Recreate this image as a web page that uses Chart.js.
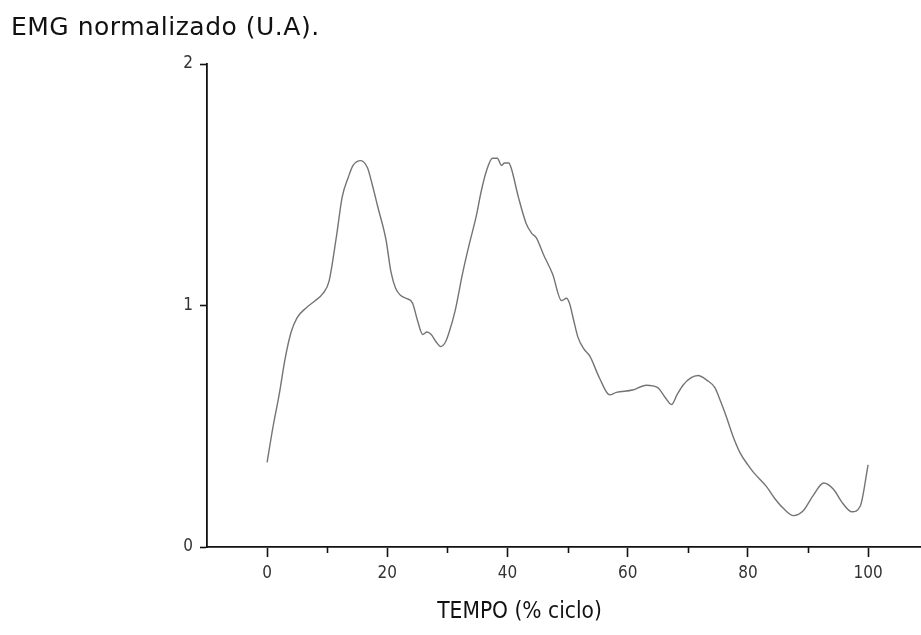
<!DOCTYPE html>
<html>
<head>
<meta charset="utf-8">
<script src="https://cdn.jsdelivr.net/npm/chart.js@4/dist/chart.umd.min.js"></script>
<style>
  html, body { margin: 0; padding: 0; background: #ffffff; }
  #wrap { width: 921px; height: 635px; position: relative; }
</style>
</head>
<body>
<div id="wrap"><canvas id="c" width="921" height="635"></canvas></div>
<script>
// ---- data ----
const tempoPct = [0, 1, 2, 3, 4, 5, 6.5, 8, 9.3, 10.3, 11.5, 12.5, 13.5, 14.3, 15.6, 16.7, 17.5, 18.4, 19.8, 20.6,
  21.4, 22.3, 23.1, 24.2, 25.0, 25.9, 26.6, 27.3, 28.1, 28.9, 29.7, 30.3, 31.3, 32.5, 33.7, 34.8, 35.6, 36.4, 37.5, 38.3,
  39.0, 39.5, 40.2, 40.6, 41.8, 43.1, 44.0, 44.8, 46.0, 47.5, 49.0, 49.8, 50.3, 51.0, 51.7, 52.7, 53.7, 55.3, 57.0, 58.1,
  60.8, 63.1, 65.0, 66.2, 67.3, 68.2, 69.2, 70.5, 71.7, 73.2, 74.5, 75.5, 76.4, 77.5, 78.7, 80.0, 80.9, 83.1, 84.5, 85.9,
  87.6, 89.2, 90.9, 92.6, 94.2, 95.8, 97.3, 98.7, 100];
const emgNorm = [0.35, 0.50, 0.63, 0.78, 0.89, 0.95, 0.99, 1.02, 1.05, 1.10, 1.28, 1.45, 1.53, 1.58, 1.60, 1.57, 1.50, 1.41, 1.27, 1.14,
  1.07, 1.04, 1.03, 1.01, 0.94, 0.88, 0.89, 0.88, 0.85, 0.83, 0.85, 0.89, 0.98, 1.13, 1.26, 1.37, 1.47, 1.55, 1.61, 1.61,
  1.58, 1.59, 1.59, 1.57, 1.45, 1.34, 1.30, 1.28, 1.21, 1.13, 1.02, 1.03, 1.01, 0.94, 0.87, 0.82, 0.79, 0.70, 0.63, 0.64,
  0.65, 0.67, 0.66, 0.62, 0.59, 0.63, 0.67, 0.70, 0.71, 0.69, 0.66, 0.60, 0.54, 0.46, 0.39, 0.34, 0.31, 0.25, 0.20, 0.16,
  0.13, 0.15, 0.215, 0.265, 0.24, 0.18, 0.146, 0.17, 0.34];
const xMajorTicks = [0, 20, 40, 60, 80, 100];
const xMinorTicks = [10, 30, 50, 70, 90];
const yTicks = [0, 1, 2];
const yTitle = 'EMG normalizado (U.A).';
const xTitle = 'TEMPO (% ciclo)';

const tickFont = { family: "'Liberation Sans Narrow', 'DejaVu Sans Condensed', 'Liberation Sans', sans-serif", size: 17 };

const extras = {
  id: 'extras',
  afterDraw(chart) {
    const ctx = chart.ctx;
    const xs = chart.scales.x;
    const y0 = chart.chartArea.bottom;
    ctx.save();
    ctx.strokeStyle = '#111';
    ctx.lineWidth = 1.6;
    xMinorTicks.forEach(v => {
      const px = Math.round(xs.getPixelForValue(v)) + 0.5;
      ctx.beginPath();
      ctx.moveTo(px, y0);
      ctx.lineTo(px, y0 + 6);
      ctx.stroke();
    });
    ctx.fillStyle = '#111';
    ctx.font = "22.5px 'Liberation Sans Narrow', 'DejaVu Sans Condensed', 'Liberation Sans', sans-serif";
    ctx.textAlign = 'center';
    ctx.textBaseline = 'middle';
    ctx.fillText(xTitle, xs.getPixelForValue(42), 612);
    // y-axis title at top-left
    ctx.font = "25px 'DejaVu Sans', Verdana, sans-serif";
    ctx.textAlign = 'left';
    if ('letterSpacing' in ctx) ctx.letterSpacing = '0.5px';
    ctx.fillText(yTitle, 11, 28);
    ctx.restore();
  }
};

new Chart(document.getElementById('c'), {
  type: 'line',
  data: {
    datasets: [{
      data: tempoPct.map((x, i) => ({ x: x, y: emgNorm[i] })),
      borderColor: '#747474',
      borderWidth: 1.4,
      pointRadius: 0,
      fill: false,
      tension: 0.4,
      cubicInterpolationMode: 'monotone'
    }]
  },
  options: {
    responsive: false,
    animation: false,
    layout: { padding: { left: 12, right: 0, top: 64, bottom: 0 } },
    plugins: {
      legend: { display: false },
      tooltip: { enabled: false },
      title: { display: false }
    },
    scales: {
      x: {
        type: 'linear',
        min: -10,
        max: 108.8,
        afterBuildTicks: s => { s.ticks = xMajorTicks.map(v => ({ value: v })); },
        afterFit: s => { s.height = 88; },
        border: { display: true, color: '#111', width: 1.8 },
        grid: { drawOnChartArea: false, drawTicks: true, tickLength: 10, tickWidth: 1.6, tickColor: '#111' },
        ticks: { color: '#333', font: tickFont, padding: 6, maxRotation: 0, autoSkip: false }
      },
      y: {
        type: 'linear',
        min: 0,
        max: 2,
        afterBuildTicks: s => { s.ticks = yTicks.map(v => ({ value: v })); },
        afterFit: s => { s.width = 195; },
        border: { display: true, color: '#111', width: 1.8 },
        grid: { drawOnChartArea: false, drawTicks: true, tickLength: 7, tickWidth: 1.6, tickColor: '#111' },
        ticks: { color: '#333', font: tickFont, padding: 7 }
      }
    }
  },
  plugins: [extras]
});
</script>
</body>
</html>
